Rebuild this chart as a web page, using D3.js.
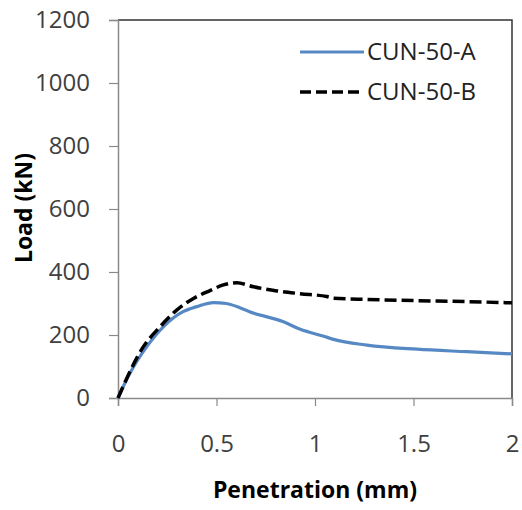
<!DOCTYPE html>
<html>
<head>
<meta charset="utf-8">
<script src="https://cdn.jsdelivr.net/npm/d3@7"></script>
<style>
  body { margin: 0; background: #fff; }
  svg { display: block; font-family: "Open Sans", sans-serif; }
</style>
</head>
<body>
<div id="app"></div>
<script>
const width = 522,
    height = 510;

const margin = {top: 20, right: 10, bottom: 112, left: 118};

// penetration (mm) / load (kN)
const seriesA = [
    [0, 0], [0.061, 79], [0.146, 163], [0.23, 226], [0.33, 274], [0.40, 290],
    [0.485, 303], [0.55, 300], [0.69, 269], [0.84, 242], [0.925, 218],
    [1.04, 197], [1.094, 186], [1.264, 168], [1.518, 155], [1.77, 147], [2.0, 140]
];
const seriesB = [
    [0, 0], [0.129, 163], [0.213, 226], [0.298, 279], [0.383, 316], [0.467, 341],
    [0.535, 359], [0.603, 366], [0.688, 353], [0.806, 340], [0.925, 331],
    [1.06, 322], [1.094, 317], [1.264, 313], [1.518, 309], [1.77, 306], [2.0, 302]
];
const seriesNames = ["CUN-50-A", "CUN-50-B"];
const xTicks = [0, 0.5, 1, 1.5, 2];
const yTicks = [0, 200, 400, 600, 800, 1000, 1200];

const x = d3.scaleLinear().domain([0, 2]).range([margin.left, width - margin.right]);
const y = d3.scaleLinear().domain([0, 1200]).range([height - margin.bottom, margin.top]);

const svg = d3.select("#app")
    .append("svg")
    .attr("width", width)
    .attr("height", height);

// frame, top and right
svg.append("path")
    .attr("d", `M${x(0)},${y(1200)}H${x(2)}V${y(0)}`)
    .attr("fill", "none")
    .attr("stroke", "#333")
    .attr("stroke-width", 1.5);

//Create X-Axis
const xAxis = svg.append("g")
    .attr("transform", "translate(0," + y(0) + ")")
    .call(d3.axisBottom(x).tickValues(xTicks).tickFormat(d3.format("")).tickSizeOuter(0).tickSize(8).tickPadding(29));

//Create Y-Axis
const yAxis = svg.append("g")
    .attr("transform", "translate(" + x(0) + ",0)")
    .call(d3.axisLeft(y).tickValues(yTicks).tickFormat(d3.format("d")).tickSizeOuter(0).tickSize(9).tickPadding(19));

[xAxis, yAxis].forEach(g => {
    g.select(".domain").attr("stroke", "#8a8a8a").attr("stroke-width", 1.5);
    g.selectAll(".tick line").attr("stroke", "#8a8a8a").attr("stroke-width", 1.2);
    g.selectAll(".tick text")
        .attr("fill", "#404040")
        .style("font-size", "24px")
        .style("font-family", "'Open Sans', sans-serif");
});

// axis titles
svg.append("text")
    .attr("x", 315)
    .attr("y", 498)
    .attr("text-anchor", "middle")
    .style("font-size", "23px")
    .style("font-weight", "bold")
    .text("Penetration (mm)");

svg.append("text")
    .attr("transform", "translate(32,208) rotate(-90)")
    .attr("text-anchor", "middle")
    .style("font-size", "23px")
    .style("font-weight", "bold")
    .text("Load (kN)");

const line = d3.line()
    .x(d => x(d[0]))
    .y(d => y(d[1]))
    .curve(d3.curveMonotoneX);

svg.append("path")
    .datum(seriesA)
    .attr("d", line)
    .attr("fill", "none")
    .attr("stroke", "#5689c4")
    .attr("stroke-width", 3.2);

svg.append("path")
    .datum(seriesB)
    .attr("d", line)
    .attr("fill", "none")
    .attr("stroke", "#000")
    .attr("stroke-width", 3.5)
    .attr("stroke-dasharray", "12,5");

// legend
const legend = svg.append("g");
const styles = [
    {stroke: "#5689c4", dash: null, w: 3.2},
    {stroke: "#000", dash: "11,5", w: 3.5}
];
seriesNames.forEach((name, i) => {
    const ly = 52 + i * 40;
    legend.append("line")
        .attr("x1", 300).attr("x2", 364)
        .attr("y1", ly).attr("y2", ly)
        .attr("stroke", styles[i].stroke)
        .attr("stroke-width", styles[i].w)
        .attr("stroke-dasharray", styles[i].dash);
    legend.append("text")
        .attr("x", 367)
        .attr("y", ly + 8)
        .attr("fill", "#222")
        .style("font-size", "24px")
        .text(name);
});
</script>
</body>
</html>
